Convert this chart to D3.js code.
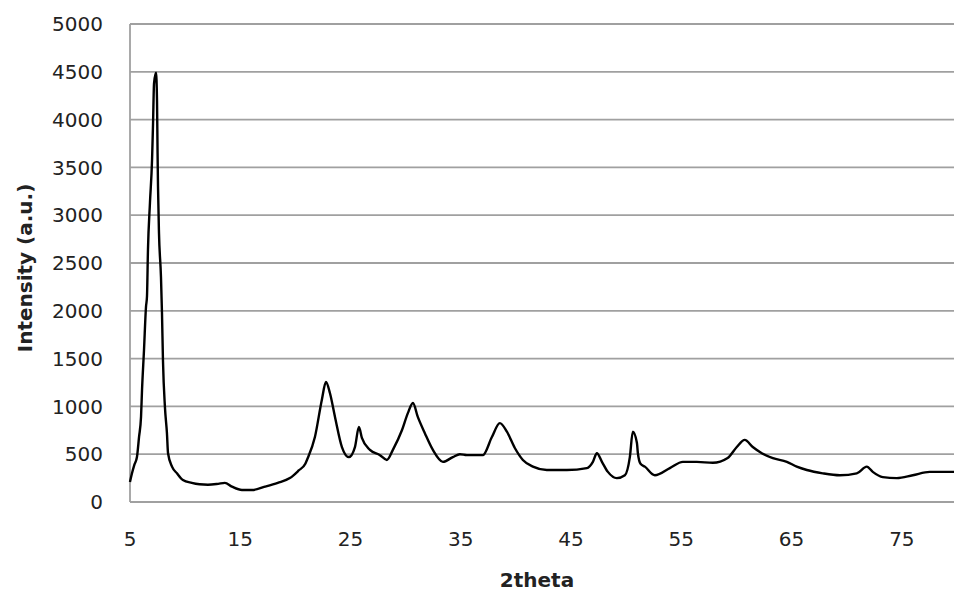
<!DOCTYPE html>
<html>
<head>
<meta charset="utf-8">
<script src="https://cdn.jsdelivr.net/npm/d3@7"></script>
<style>
  body { margin: 0; background: #fff; }
  text { font-family: "DejaVu Sans", Verdana, sans-serif; fill: #222; }
</style>
</head>
<body>
<svg id="chart" width="954" height="594"></svg>
<script>
// 2theta positions and intensities
var twoTheta = [5.0, 5.18, 5.4, 5.63, 5.82, 6.0, 6.09, 6.27, 6.45, 6.54, 6.63, 6.81, 7.0, 7.09, 7.18, 7.36,
  7.45, 7.5, 7.54, 7.63, 7.81, 7.9, 7.99, 8.17, 8.35, 8.45, 8.81, 9.26, 9.8, 10.6, 11.3, 12.07, 13.0, 13.6,
  14.25, 15.15, 16.06, 17.24, 18.4, 19.5, 20.3, 20.9, 21.05, 21.77, 22.4, 22.77, 23.13, 23.59, 24.22, 24.85,
  25.4, 25.76, 26.03, 26.76, 27.67, 28.3, 28.84, 29.66, 30.2, 30.66, 31.1, 31.74, 32.47, 33.38, 34.28, 34.92,
  35.55, 37.0, 37.82, 38.54, 39.18, 39.9, 40.63, 41.54, 42.8, 44.62, 46.43, 46.98, 47.34, 47.8, 48.34, 49.15,
  49.88, 50.33, 50.6, 50.97, 51.06, 51.3, 51.69, 52.6, 53.96, 55.14, 56.4, 57.86, 59.2, 60.03, 60.75, 61.48,
  62.3, 63.3, 64.57, 65.47, 66.38, 67.83, 69.37, 70.91, 71.82, 72.36, 73.27, 74.54, 75.99, 77.53, 80.0];
var intensity = [210, 300, 390, 470, 680, 890, 1170, 1590, 2040, 2150, 2640, 3130, 3580, 3960, 4380, 4490,
  4200, 3650, 3300, 2810, 2350, 1980, 1480, 990, 720, 510, 370, 300, 230, 200, 185, 180, 190, 200,
  160, 125, 125, 160, 200, 250, 330, 400, 440, 680, 1070, 1255, 1140, 890, 575, 470,
  575, 785, 670, 545, 490, 440, 545, 750, 930, 1035, 890, 720, 545, 420, 470, 500,
  490, 490, 680, 825, 735, 565, 440, 370, 335, 335, 355, 420, 510, 420, 315, 250,
  280, 470, 735, 620, 510, 400, 370, 280, 355, 420, 420, 410, 460, 575, 650, 575,
  510, 460, 420, 370, 335, 300, 280, 300, 370, 315, 260, 250, 280, 315, 315];
var xTicks = [5, 15, 25, 35, 45, 55, 65, 75];
var yTicks = [0, 500, 1000, 1500, 2000, 2500, 3000, 3500, 4000, 4500, 5000];

var data = twoTheta.map(function(t, i) { return { t: t, v: intensity[i] }; });

var svg = d3.select("#chart");

var x = d3.scaleLinear().domain([5, 80]).range([130, 957]);
var y = d3.scaleLinear().domain([0, 5000]).range([502, 24]);

// horizontal gridlines
svg.append("g")
  .selectAll("line")
  .data(yTicks)
  .enter().append("line")
  .attr("x1", x(5))
  .attr("x2", 954)
  .attr("y1", function(d) { return y(d); })
  .attr("y2", function(d) { return y(d); })
  .attr("stroke", "#a0a0a0")
  .attr("stroke-width", 1.8);

// left axis line
svg.append("line")
  .attr("x1", x(5)).attr("x2", x(5))
  .attr("y1", y(0)).attr("y2", y(5000))
  .attr("stroke", "#a0a0a0")
  .attr("stroke-width", 1.8);

// y tick labels
svg.append("g")
  .selectAll("text")
  .data(yTicks)
  .enter().append("text")
  .attr("x", 103)
  .attr("y", function(d) { return y(d); })
  .attr("dy", "0.36em")
  .attr("text-anchor", "end")
  .attr("font-size", "20px")
  .text(function(d) { return d; });

// x tick labels
svg.append("g")
  .selectAll("text")
  .data(xTicks)
  .enter().append("text")
  .attr("x", function(d) { return x(d); })
  .attr("y", 546)
  .attr("text-anchor", "middle")
  .attr("font-size", "20px")
  .text(function(d) { return d; });

// the pattern
var line = d3.line()
  .curve(d3.curveMonotoneX)
  .x(function(d) { return x(d.t); })
  .y(function(d) { return y(d.v); });

svg.append("path")
  .datum(data)
  .attr("d", line)
  .attr("fill", "none")
  .attr("stroke", "#000")
  .attr("stroke-width", 2.4)
  .attr("stroke-linejoin", "round");

// axis titles
svg.append("text")
  .attr("x", 537)
  .attr("y", 587)
  .attr("text-anchor", "middle")
  .attr("font-size", "20px")
  .attr("font-weight", "bold")
  .text("2theta");

svg.append("text")
  .attr("transform", "translate(32,268) rotate(-90)")
  .attr("text-anchor", "middle")
  .attr("font-size", "20px")
  .attr("font-weight", "bold")
  .text("Intensity (a.u.)");
</script>
</body>
</html>
